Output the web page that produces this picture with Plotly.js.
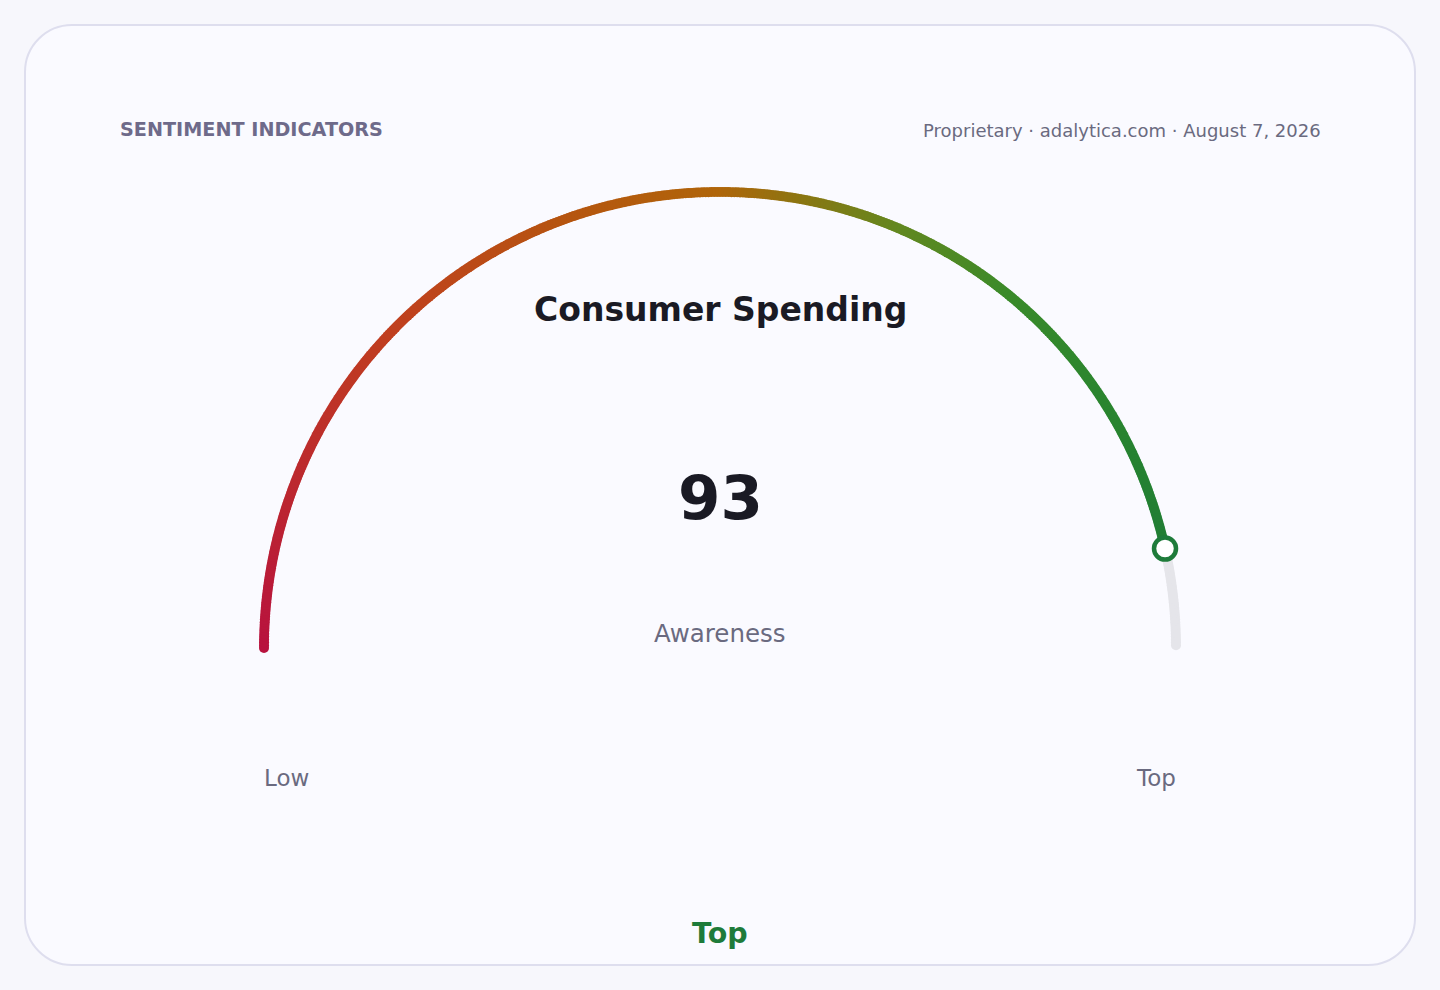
<!DOCTYPE html>
<html>
<head>
<meta charset="utf-8">
<script src="https://cdn.plot.ly/plotly-3.0.1.min.js"></script>
<style>
  html, body { margin:0; padding:0; background:#f7f7fc; width:1440px; height:990px; overflow:hidden; }
  #card { position:absolute; left:24px; top:24px; width:1388px; height:938px; border:2px solid #dedeee; border-radius:48px; background:#fafaff; }
  #chart { position:absolute; left:0; top:0; width:1440px; height:990px; }
</style>
</head>
<body>
<div id="card"></div>
<div id="chart"></div>
<script>
// ---- data ----
const kicker = "SENTIMENT INDICATORS";
const sourceLine = "Proprietary · adalytica.com · August 7, 2026";
const gaugeTitle = "Consumer Spending";
const gaugeValue = 93;
const gaugeMin = 0;
const gaugeMax = 100;
const metricLabel = "Awareness";
const scaleLabels = ["Low", "Top"];
const bandLabel = "Top";

// ---- rendering ----
const W = 1440, H = 990;
const px = x => x / W;
const py = y => 1 - y / H;
const toTheta = v => (v - gaugeMin) / (gaugeMax - gaugeMin) * 180;

const step = 0.2;
const fillVals = [];
for (let v = gaugeMin; v <= gaugeValue + 1e-9; v += step) fillVals.push(v);
const trackVals = [];
for (let v = gaugeValue; v <= gaugeMax + 1e-9; v += step) trackVals.push(v);

const colorscale = [
  [0.00, '#b8123e'],
  [0.25, '#c0401f'],
  [0.40, '#b5560f'],
  [0.50, '#b0650a'],
  [0.56, '#8a7612'],
  [0.63, '#628820'],
  [0.72, '#3a8a2a'],
  [0.82, '#2a852f'],
  [1.00, '#1a7838']
];

const traces = [
  {
    type: 'scatterpolar', mode: 'markers',
    r: trackVals.map(() => 1), theta: trackVals.map(toTheta),
    marker: { size: 10, color: '#e5e5ea', line: { width: 0 } },
    cliponaxis: false, hoverinfo: 'skip'
  },
  {
    type: 'scatterpolar', mode: 'markers',
    r: fillVals.map(() => 1), theta: fillVals.map(toTheta),
    marker: { size: 10, color: fillVals, cmin: gaugeMin, cmax: gaugeMax, colorscale: colorscale, showscale: false, line: { width: 0 } },
    cliponaxis: false, hoverinfo: 'skip'
  },
  {
    type: 'scatterpolar', mode: 'markers',
    r: [1], theta: [toTheta(gaugeValue)],
    marker: { size: 22, color: '#ffffff', line: { width: 4.5, color: '#1e7b3a' } },
    cliponaxis: false, hoverinfo: 'skip'
  }
];

const font = 'DejaVu Sans, sans-serif';
const ann = (text, x, y, size, color, weight, xanchor) => ({
  text: text, x: px(x), y: py(y), xref: 'paper', yref: 'paper',
  xanchor: xanchor || 'center', yanchor: 'middle', showarrow: false,
  font: { family: font, size: size, color: color, weight: weight || 400 }
});

const layout = {
  width: W, height: H,
  margin: { l: 0, r: 0, t: 0, b: 0 },
  paper_bgcolor: 'rgba(0,0,0,0)',
  plot_bgcolor: 'rgba(0,0,0,0)',
  showlegend: false,
  polar: {
    domain: { x: [px(264), px(1176)], y: [py(648), py(192)] },
    sector: [0, 180],
    bgcolor: 'rgba(0,0,0,0)',
    hole: 0,
    radialaxis: { visible: false, range: [0, 1] },
    angularaxis: { visible: false, direction: 'clockwise', rotation: 180, thetaunit: 'degrees' }
  },
  annotations: [
    ann(kicker, 118, 130, 19.2, '#6e6a8a', 700, 'left'),
    ann(sourceLine, 1323, 131, 18, '#6a6a80', 400, 'right'),
    ann(gaugeTitle, 720, 309, 33, '#1a1a24', 700),
    ann(String(gaugeValue), 720, 497, 61, '#1a1a24', 700),
    ann(metricLabel, 720, 633, 24.5, '#6a6a80', 400),
    ann(scaleLabels[0], 262, 778, 23, '#6a6a80', 400, 'left'),
    ann(scaleLabels[1], 1178, 778, 23, '#6a6a80', 400, 'right'),
    ann(bandLabel, 720, 933, 28.5, '#1e7b3a', 700)
  ]
};

Plotly.newPlot('chart', traces, layout, { staticPlot: true, displayModeBar: false });
</script>
</body>
</html>
